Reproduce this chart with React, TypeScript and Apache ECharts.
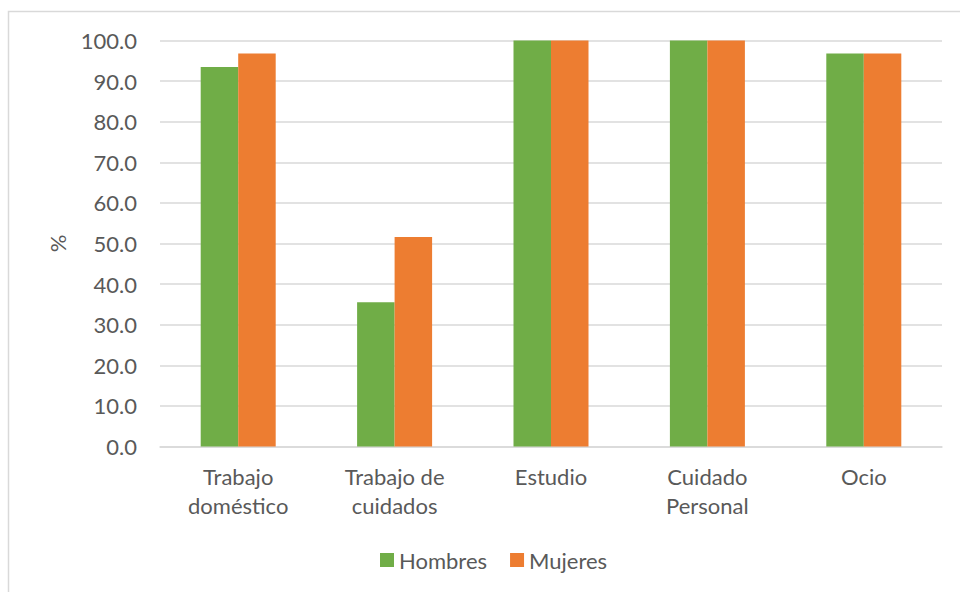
import React, { useEffect, useRef } from "react";
import * as echarts from "echarts";

const categories = ["Trabajo\ndoméstico", "Trabajo de\ncuidados", "Estudio", "Cuidado\nPersonal", "Ocio"];
const hombres = [93.5, 35.5, 100.0, 100.0, 96.8];
const mujeres = [96.8, 51.6, 100.0, 100.0, 96.8];
const seriesNames = ["Hombres", "Mujeres"];

const FONT = "Lato, 'Noto Sans', sans-serif";
const TEXT = "#595959";
const LINE = "#D9D9D9";

export default function App() {
  const ref = useRef<HTMLDivElement>(null);

  useEffect(() => {
    if (!ref.current) return;
    const chart = echarts.init(ref.current, undefined, { renderer: "svg" });
    chart.setOption({
      animation: false,
      backgroundColor: "#ffffff",
      textStyle: { fontFamily: FONT, color: TEXT },
      graphic: [
        {
          type: "rect",
          silent: true,
          z: -10,
          shape: { x: 8.5, y: 11.5, width: 1000, height: 1000 },
          style: { fill: "none", stroke: LINE, lineWidth: 1.5 },
        },
      ],
      grid: { left: 160, right: 18, top: 40.5, bottom: 145.5, containLabel: false },
      legend: {
        data: seriesNames,
        left: 380,
        top: 549,
        padding: 0,
        itemWidth: 14,
        itemHeight: 14,
        itemGap: 23,
        icon: "rect",
        textStyle: { fontFamily: FONT, fontSize: 22, color: TEXT },
      },
      xAxis: {
        type: "category",
        data: categories,
        axisTick: { show: false },
        axisLine: { lineStyle: { color: LINE, width: 1.5 } },
        axisLabel: {
          fontFamily: FONT,
          fontSize: 22,
          color: TEXT,
          lineHeight: 29.6,
          margin: 15,
          interval: 0,
        },
      },
      yAxis: {
        type: "value",
        min: 0,
        max: 100,
        interval: 10,
        name: "%",
        nameLocation: "middle",
        nameRotate: 90,
        nameGap: 92,
        nameTextStyle: { fontFamily: FONT, fontSize: 22, color: TEXT },
        axisLine: { show: false },
        axisTick: { show: false },
        axisLabel: {
          fontFamily: FONT,
          fontSize: 22,
          color: TEXT,
          margin: 23,
          formatter: (v: number) => v.toFixed(1),
        },
        splitLine: { lineStyle: { color: LINE, width: 1.5 } },
      },
      series: [
        {
          name: seriesNames[0],
          type: "bar",
          data: hombres,
          barWidth: 37.5,
          barGap: "0%",
          itemStyle: { color: "#70AD47" },
        },
        {
          name: seriesNames[1],
          type: "bar",
          data: mujeres,
          barWidth: 37.5,
          barGap: "0%",
          itemStyle: { color: "#ED7D31" },
        },
      ],
    });
    return () => chart.dispose();
  }, []);

  return (
    <div
      ref={ref}
      style={{ position: "fixed", left: 0, top: 0, width: 960, height: 592 }}
    />
  );
}
